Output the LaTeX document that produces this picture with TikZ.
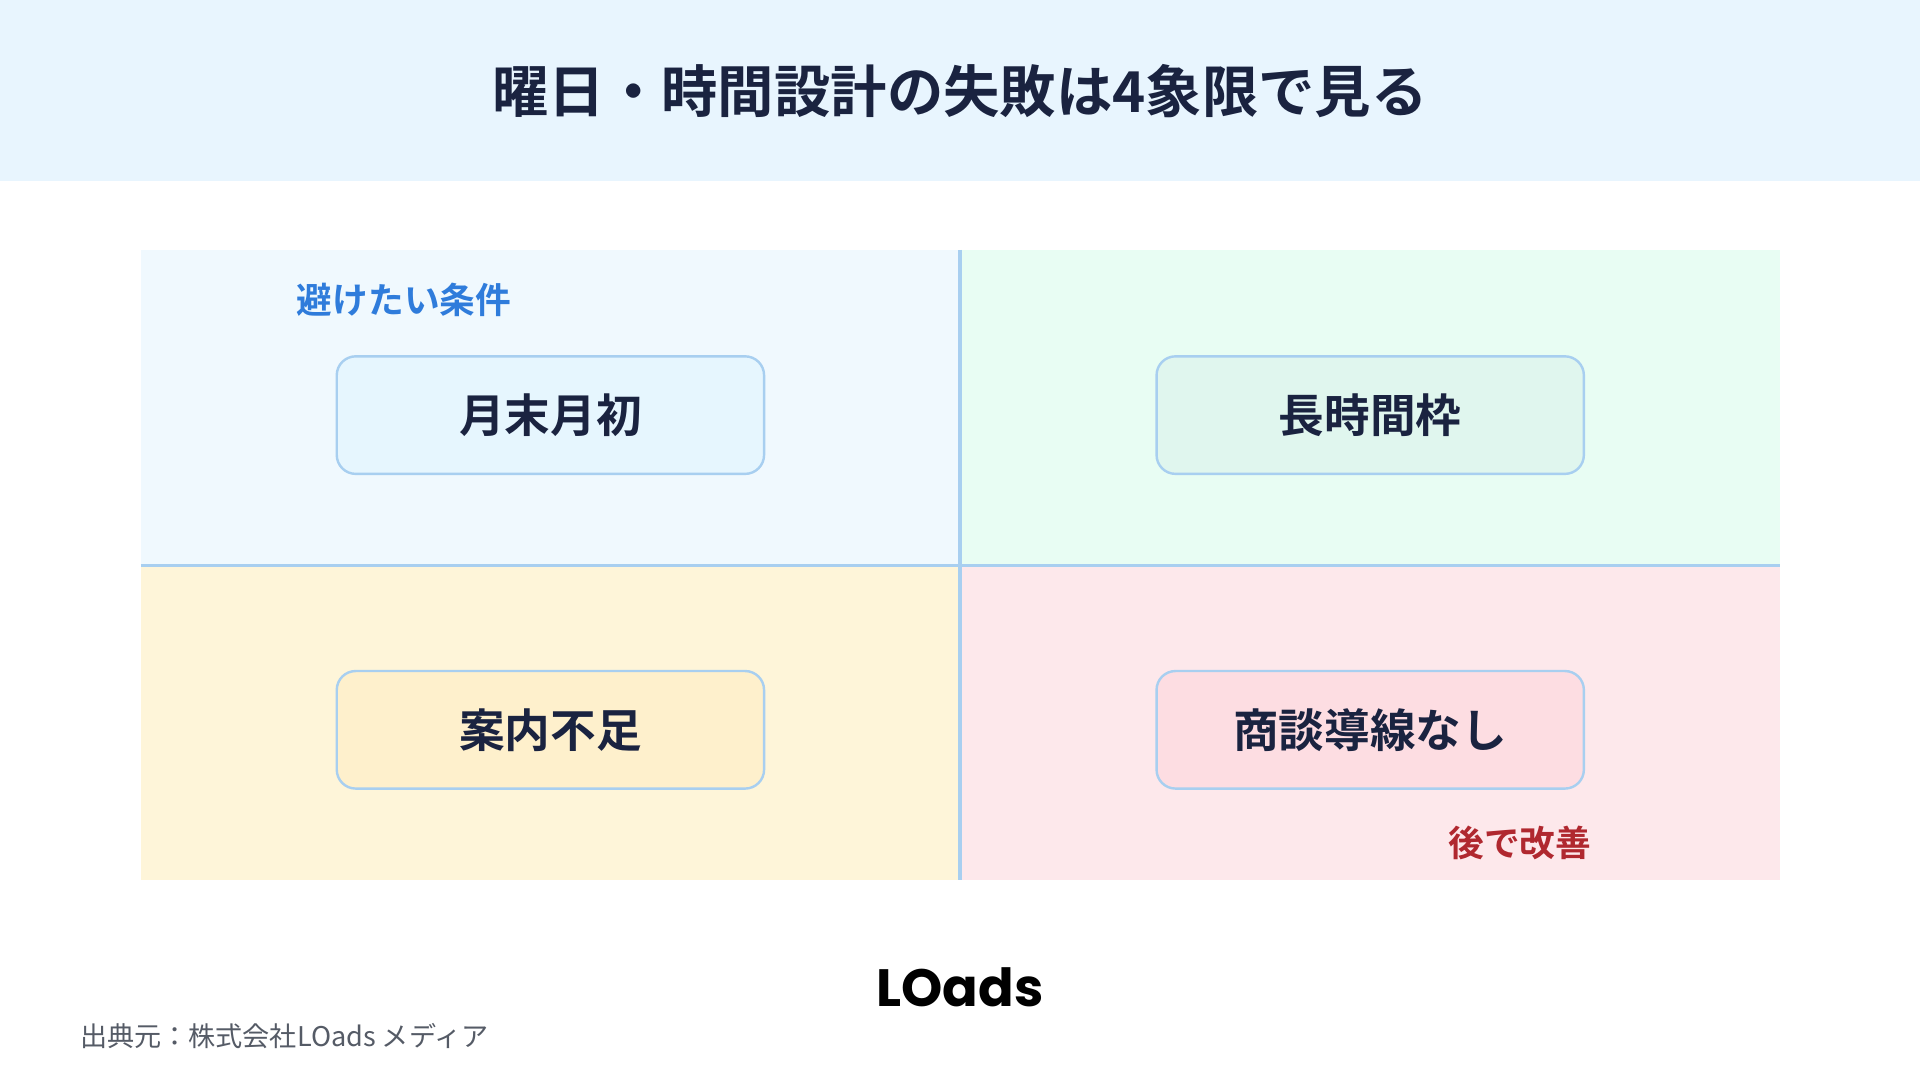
\documentclass[tikz,border=0pt]{standalone}
\usepackage{fontspec}
\newfontfamily\jpb{Noto Sans CJK JP Bold}
\newfontfamily\jpr{Noto Sans CJK JP}
\newfontfamily\logo{Poppins Bold}
\definecolor{hdr}{HTML}{E8F5FE}
\definecolor{qtl}{HTML}{F0F9FE}
\definecolor{qtr}{HTML}{E8FDF3}
\definecolor{qbl}{HTML}{FEF5D9}
\definecolor{qbr}{HTML}{FDE8EB}
\definecolor{ln}{HTML}{A8CFF0}
\definecolor{btl}{HTML}{E6F6FE}
\definecolor{btr}{HTML}{E0F6EE}
\definecolor{bbl}{HTML}{FEF0CC}
\definecolor{bbr}{HTML}{FDDDE2}
\definecolor{ink}{HTML}{1A2340}
\definecolor{lblue}{HTML}{2F7CDB}
\definecolor{lred}{HTML}{B0282F}
\definecolor{gry}{HTML}{555B66}
\tikzset{
 qbox/.style={draw=ln,line width=2.8pt,rounded corners=22pt,minimum width=17.45cm,minimum height=4.8cm,font=\jpb\fontsize{53}{53}\selectfont,text=ink},
}
\begin{document}
\begin{tikzpicture}[x=0.05cm,y=-0.05cm]
\useasboundingbox (0,0) rectangle (1568,882);
\fill[white] (0,0) rectangle (1568,882);
\fill[hdr] (0,0) rectangle (1568,148);
\node[font=\jpb\fontsize{65.5}{65.5}\selectfont,text=ink] (title) at (784,74) {曜日・時間設計の失敗は4象限で見る};
\fill[qtl] (115,204) rectangle (784,462);
\fill[qtr] (784,204) rectangle (1454,462);
\fill[qbl] (115,462) rectangle (784,719);
\fill[qbr] (784,462) rectangle (1454,719);
\draw[ln,line width=4pt] (115,462) -- (1454,462);
\draw[ln,line width=4pt] (784,204) -- (784,719);
\node[qbox,fill=btl] (a) at (449.5,339) {月末月初};
\node[qbox,fill=btr] (b) at (1119,339) {長時間枠};
\node[qbox,fill=bbl] (c) at (449.5,596) {案内不足};
\node[qbox,fill=bbr] (d) at (1119,596) {商談導線なし};
\node[anchor=west,font=\jpb\fontsize{41.5}{41.5}\selectfont,text=lblue] (l1) at (240,245) {避けたい条件};
\node[anchor=east,font=\jpb\fontsize{41.5}{41.5}\selectfont,text=lred] (l2) at (1302,688) {後で改善};
\node[font=\logo\fontsize{61}{61}\selectfont,text=black] (lg) at (784,806) {LOads};
\node[anchor=west,font=\jpr\fontsize{31.5}{31.5}\selectfont,text=gry] (src) at (63,846) {出典元：株式会社LOads メディア};
\end{tikzpicture}
\end{document}
